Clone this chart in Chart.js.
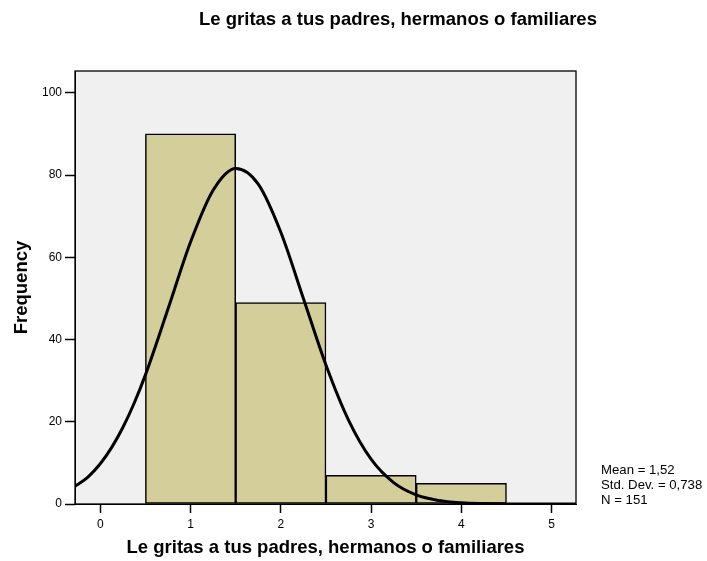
<!DOCTYPE html>
<html>
<head>
<meta charset="utf-8">
<script src="https://cdn.jsdelivr.net/npm/chart.js@4.4.1/dist/chart.umd.min.js"></script>
<style>
  html, body { margin: 0; padding: 0; background: #ffffff; }
  #wrap { width: 707px; height: 561px; }
</style>
</head>
<body>
<div id="wrap"><canvas id="myChart" width="707" height="561"></canvas></div>
<script>
Chart.defaults.font.family = '"Liberation Sans", Arial, sans-serif';
Chart.defaults.color = '#000000';

// histogram bins (bin centres) and their counts
const binCenters = [1, 2, 3, 4];
const frequencies = [90, 49, 7, 5];

// normal curve
const curveX = [-0.28, -0.14, 0, 0.125, 0.25, 0.375, 0.5, 0.75, 1, 1.25, 1.5, 1.75, 2, 2.25, 2.5, 2.75, 3, 3.25, 3.5, 3.75, 4, 4.25, 4.5, 4.75, 5, 5.27];
const curveY = [4.3, 6.5, 9.8, 13.7, 18.6, 24.5, 31.4, 47.4, 63.7, 76.3, 81.6, 77.8, 66.1, 50.0, 33.8, 20.4, 10.9, 5.2, 2.2, 0.85, 0.3, 0.1, 0.02, 0, 0, 0];

const xTicks = [0, 1, 2, 3, 4, 5];
const yTicks = [0, 20, 40, 60, 80, 100];

const chartTitle = 'Le gritas a tus padres, hermanos o familiares';
const xTitle = 'Le gritas a tus padres, hermanos o familiares';
const yTitle = 'Frequency';
const statsLines = ['Mean = 1,52', 'Std. Dev. = 0,738', 'N = 151'];

// plot background, frame, title and the stats box
const decorations = {
    id: 'decorations',
    beforeDraw(chart) {
        const { ctx, chartArea: a } = chart;
        ctx.save();
        ctx.fillStyle = '#f0f0f0';
        ctx.fillRect(a.left, a.top, a.right - a.left, a.bottom - a.top);
        ctx.restore();
    },
    afterDraw(chart) {
        const { ctx, chartArea: a } = chart;
        ctx.save();
        ctx.strokeStyle = '#000000';
        ctx.lineWidth = 1.3;
        ctx.strokeRect(a.left, a.top, a.right - a.left, a.bottom - a.top);

        ctx.fillStyle = '#000000';
        ctx.font = 'bold 18.5px "Liberation Sans", Arial, sans-serif';
        ctx.textAlign = 'center';
        ctx.textBaseline = 'middle';
        ctx.fillText(chartTitle, 398, 20);

        ctx.font = '13.2px "Liberation Sans", Arial, sans-serif';
        ctx.textAlign = 'left';
        statsLines.forEach((line, i) => {
            ctx.fillText(line, 601, 470 + i * 15);
        });
        ctx.restore();
    }
};

const ctx = document.getElementById('myChart');

new Chart(ctx, {
    data: {
        datasets: [
            {
                type: 'line',
                label: 'Normal',
                data: curveX.map((x, i) => ({ x: x, y: curveY[i] })),
                borderColor: '#000000',
                borderWidth: 3,
                pointRadius: 0,
                fill: false,
                cubicInterpolationMode: 'monotone',
                order: 0
            },
            {
                type: 'bar',
                label: 'Frequency',
                data: binCenters.map((x, i) => ({ x: x, y: frequencies[i] })),
                backgroundColor: '#d3ce9a',
                borderColor: '#000000',
                borderWidth: 1.5,
                borderSkipped: false,
                barPercentage: 1,
                categoryPercentage: 1,
                order: 1
            }
        ]
    },
    options: {
        responsive: false,
        animation: false,
        layout: {
            padding: { left: 0, right: 131, top: 71, bottom: 0 }
        },
        scales: {
            x: {
                type: 'linear',
                min: -0.28,
                max: 5.27,
                offset: false,
                afterFit: (scale) => { scale.height = 57; },
                afterBuildTicks: (scale) => { scale.ticks = xTicks.map(v => ({ value: v })); },
                grid: {
                    offset: false,
                    drawOnChartArea: false,
                    drawTicks: true,
                    tickLength: 9,
                    tickColor: '#000000',
                    tickWidth: 1.5
                },
                border: { display: true, color: '#000000', width: 1 },
                ticks: {
                    font: { size: 12 },
                    padding: 4,
                    color: '#000000'
                },
                title: {
                    display: true,
                    text: xTitle,
                    font: { size: 18.5, weight: 'bold' },
                    padding: { top: 0, bottom: 2 }
                }
            },
            y: {
                type: 'linear',
                min: 0,
                max: 105.3,
                afterFit: (scale) => { scale.width = 75; },
                afterBuildTicks: (scale) => { scale.ticks = yTicks.map(v => ({ value: v })); },
                grid: {
                    drawOnChartArea: false,
                    drawTicks: true,
                    tickLength: 10,
                    tickColor: '#000000',
                    tickWidth: 1.5
                },
                border: { display: true, color: '#000000', width: 1 },
                ticks: {
                    font: { size: 12 },
                    padding: 3,
                    color: '#000000'
                },
                title: {
                    display: true,
                    text: yTitle,
                    font: { size: 18.5, weight: 'bold' },
                    padding: { top: 11, bottom: 0 }
                }
            }
        },
        plugins: {
            legend: { display: false },
            tooltip: { enabled: false },
            title: { display: false }
        }
    },
    plugins: [decorations]
});
</script>
</body>
</html>
